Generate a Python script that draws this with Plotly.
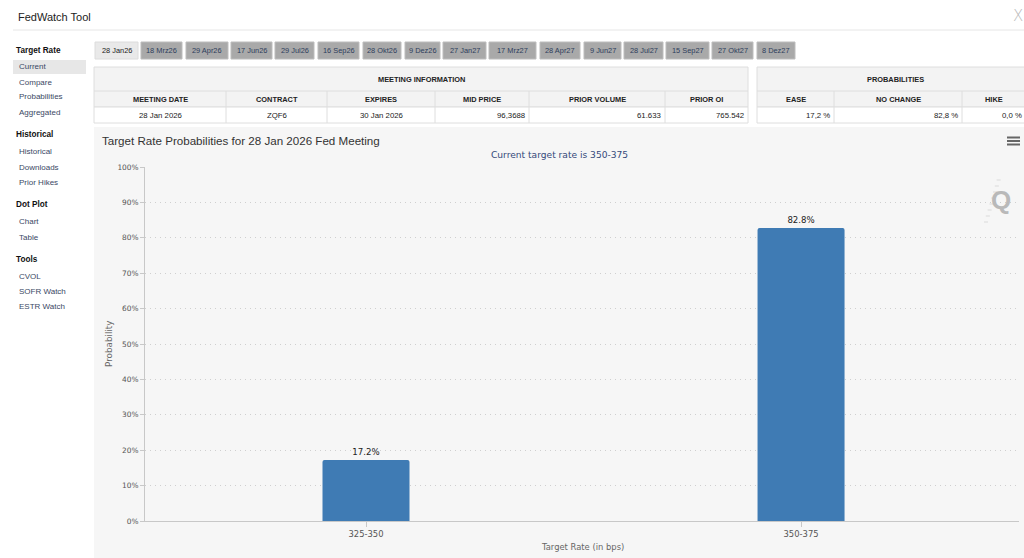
import plotly.graph_objects as go

# ---------------- data ----------------
categories = ["325-350", "350-375"]
probabilities = [17.2, 82.8]
y_tick_values = [0, 10, 20, 30, 40, 50, 60, 70, 80, 90, 100]
y_tick_labels = ["0%", "10%", "20%", "30%", "40%", "50%", "60%", "70%", "80%", "90%", "100%"]

meeting_tabs = ["28 Jan26", "18 Mrz26", "29 Apr26", "17 Jun26", "29 Jul26", "16 Sep26",
                "28 Okt26", "9 Dez26", "27 Jan27", "17 Mrz27", "28 Apr27", "9 Jun27",
                "28 Jul27", "15 Sep27", "27 Okt27", "8 Dez27"]

meeting_headers = ["MEETING DATE", "CONTRACT", "EXPIRES", "MID PRICE", "PRIOR VOLUME", "PRIOR OI"]
meeting_values = ["28 Jan 2026", "ZQF6", "30 Jan 2026", "96,3688", "61.633", "765.542"]
prob_headers = ["EASE", "NO CHANGE", "HIKE"]
prob_values = ["17,2 %", "82,8 %", "0,0 %"]

sidebar_sections = ["Target Rate", "Historical", "Dot Plot", "Tools"]
sidebar_items = [["Current", "Compare", "Probabilities", "Aggregated"],
                 ["Historical", "Downloads", "Prior Hikes"],
                 ["Chart", "Table"],
                 ["CVOL", "SOFR Watch", "ESTR Watch"]]

chart_title = "Target Rate Probabilities for 28 Jan 2026 Fed Meeting"
chart_subtitle = "Current target rate is 350-375"

# ---------------- layout geometry (pixels) ----------------
W, H = 1024, 558
PL, PR, PT, PB = 145, 1019, 167, 521

def xp(x):
    return (x - PL) / (PR - PL)

def yp(y):
    return (PB - y) / (PB - PT)

tab_edges = [(95, 138), (141, 182), (186, 228), (231, 272), (275, 314), (318, 359),
             (363, 401), (405, 440), (443, 486), (489, 536), (540, 580), (584, 621),
             (624, 663), (666, 709), (712, 753), (757, 795)]
meeting_cols = [94, 226, 327, 435, 529, 665, 748]
meeting_align = ["center", "center", "center", "right", "right", "right"]
prob_cols = [757, 834, 962, 1026]
row_y = [67, 91, 107, 123]
section_y = [50, 135, 204, 259]
item_y = [[67, 82, 97, 112], [152, 167, 182], [221, 237], [276, 291, 306]]

PAGE_FONT = "Liberation Sans, Arial, sans-serif"
CHART_FONT = "DejaVu Sans, Verdana, sans-serif"

shapes = []
annotations = []

def rect(x0, y0, x1, y1, fill, line=None, lw=1, layer="below"):
    shapes.append(dict(type="rect", xref="paper", yref="paper",
                       x0=xp(x0), x1=xp(x1), y0=yp(y0), y1=yp(y1),
                       fillcolor=fill, layer=layer,
                       line=dict(color=line if line else fill, width=lw if line else 0)))

def hline(x0, x1, y, color, width=1, layer="below"):
    shapes.append(dict(type="line", xref="paper", yref="paper",
                       x0=xp(x0), x1=xp(x1), y0=yp(y), y1=yp(y),
                       line=dict(color=color, width=width), layer=layer))

def vline(x, y0, y1, color, width=1, layer="below"):
    shapes.append(dict(type="line", xref="paper", yref="paper",
                       x0=xp(x), x1=xp(x), y0=yp(y0), y1=yp(y1),
                       line=dict(color=color, width=width), layer=layer))

def text(x, y, s, size, color, anchor="left", bold=False, family=PAGE_FONT, angle=0):
    annotations.append(dict(xref="paper", yref="paper", x=xp(x), y=yp(y),
                            text=f"<b>{s}</b>" if bold else s, showarrow=False,
                            xanchor=anchor, yanchor="middle", textangle=angle,
                            font=dict(family=family, size=size, color=color)))

# header
text(16, 17, "FedWatch Tool", 11, "#222")
hline(13, 1024, 30, "#e6e6e6")
text(1018, 16, "X", 15, "#b8b8b8", anchor="center", family="DejaVu Sans Light, DejaVu Sans")

# sidebar
rect(13, 60, 86, 74, "#e7e7e7")
for sec, sy, items, iys in zip(sidebar_sections, section_y, sidebar_items, item_y):
    text(13.5, sy, sec, 8.2, "#111", bold=True)
    for it, iy in zip(items, iys):
        text(17, iy, it, 8, "#3a4864")

# tabs
for i, (lab, (x0, x1)) in enumerate(zip(meeting_tabs, tab_edges)):
    active = i == 0
    rect(x0, 42, x1, 59, "#e9e9e9" if active else "#a9a9a9",
         line="#dcdcdc" if active else "#bdbdbd")
    text((x0 + x1) / 2, 50.5, lab, 7.4, "#222" if active else "#2d3d5c", anchor="center")

# tables
def draw_table(cols, title, headers, values, aligns, extend_right=0):
    border = "#dedede"
    right = cols[-1] + extend_right
    rect(cols[0], row_y[0], right, row_y[2], "#f3f3f3", line=border)
    rect(cols[0], row_y[2], right, row_y[3], "#ffffff", line=border)
    hline(cols[0], right, row_y[1], border)
    for c in cols[1:-1]:
        vline(c, row_y[1], row_y[3], border)
    text((cols[0] + right) / 2, (row_y[0] + row_y[1]) / 2, title, 7.4, "#222",
         anchor="center", bold=True)
    for j, (h, v, a) in enumerate(zip(headers, values, aligns)):
        c0, c1 = cols[j], cols[j + 1]
        text((c0 + c1) / 2, (row_y[1] + row_y[2]) / 2, h, 7.4, "#222", anchor="center", bold=True)
        if a == "center":
            text((c0 + c1) / 2, (row_y[2] + row_y[3]) / 2, v, 7.8, "#222", anchor="center")
        else:
            text(c1 - 2.5, (row_y[2] + row_y[3]) / 2, v, 7.8, "#222", anchor="right")

draw_table(meeting_cols, "MEETING INFORMATION", meeting_headers, meeting_values, meeting_align)
draw_table(prob_cols, "PROBABILITIES", prob_headers,
           prob_values, ["right", "right", "right"], extend_right=8)

# chart panel
rect(94, 127, 1030, 560, "#f6f6f6")
text(100, 140, chart_title, 11.6, "#333")
text(559, 155, chart_subtitle, 9.1, "#34497a", anchor="center", family=CHART_FONT)
# hamburger menu
for yy in (137.5, 141, 144.5):
    hline(1007, 1020, yy, "#666", width=2, layer="above")
# watermark
text(1001, 200, "Q", 26, "#b9b9b9", anchor="center", bold=True)
for k in range(8):
    hline(984 + k * 1.8, 988 + k * 1.8, 222 - k * 6, "#dadada", width=1, layer="above")

# axis titles
text(109, 344, "Probability", 8.8, "#666", anchor="center", family=CHART_FONT, angle=-90)
text(582, 547, "Target Rate (in bps)", 8.4, "#666", anchor="center", family=CHART_FONT)

fig = go.Figure(go.Bar(
    x=categories, y=probabilities, width=0.2,
    marker=dict(color="#3f7bb4", line=dict(width=0), cornerradius=2),
    texttemplate="%{y:.1f}%", textposition="outside", cliponaxis=False,
    textfont=dict(family=CHART_FONT, size=8.6, color="#222"),
    hoverinfo="skip",
))

fig.update_layout(
    width=W, height=H, autosize=False,
    margin=dict(l=PL, r=W - PR, t=PT, b=H - PB, pad=0),
    paper_bgcolor="#ffffff", plot_bgcolor="rgba(0,0,0,0)",
    showlegend=False, shapes=shapes, annotations=annotations,
    bargap=0.8,
    xaxis=dict(type="category", range=[-0.508, 1.501], showline=True, linecolor="#c8c8c8",
               linewidth=1, ticks="outside", ticklen=5, tickcolor="#c8c8c8",
               showgrid=False, zeroline=False, fixedrange=True,
               tickfont=dict(family=CHART_FONT, size=8.4, color="#555")),
    yaxis=dict(range=[0, 100], tickmode="array", tickvals=y_tick_values, ticktext=y_tick_labels,
               showline=True, linecolor="#c8c8c8", linewidth=1,
               ticks="outside", ticklen=4, tickcolor="#c8c8c8",
               showgrid=True, gridcolor="#cfcfcf", griddash="1px,4px", gridwidth=1,
               zeroline=False, fixedrange=True,
               tickfont=dict(family=CHART_FONT, size=7.4, color="#555")),
)

fig.write_html("out.html", config={"displayModeBar": False})
